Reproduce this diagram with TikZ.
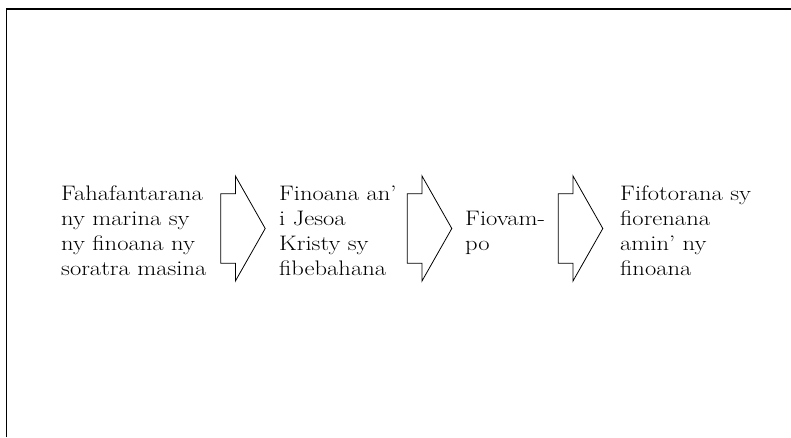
\documentclass[tikz,border=0pt]{standalone}
\usepackage{fontspec}
\setmainfont{Latin Modern Roman}[FakeStretch=1.17]
\begin{document}
\begin{tikzpicture}[x=1pt,y=1pt,
    stage/.style={anchor=west,align=left,inner sep=0pt,font=\fontsize{21}{25}\selectfont},
    blockarrow/.style={draw,line width=0.8pt,line join=miter}]
      \useasboundingbox (0,0) rectangle (791,437);
      \draw[line width=1.2pt] (6.5,0) -- (6.5,428) -- (791,428);
      \draw
        (61,206) node[stage] (1){Fahafantarana\\ny marina sy\\ny finoana ny\\soratra masina}
        (279,206) node[stage] (2){Finoana an’\\i Jesoa\\Kristy sy\\fibebahana}
        (465,204) node[stage] (3){Fiovam-\\po}
        (620,206) node[stage] (4){Fifotorana sy\\fiorenana\\amin’ ny\\finoana};
      \foreach \x in {220.7,407.3,558.3}
        \draw[blockarrow] (\x,173.75) -- (\x,243.25) -- (\x+14.7,243.25) -- (\x+14.7,261)
          -- (\x+44.5,208.5) -- (\x+14.7,156) -- (\x+14.7,173.75) -- cycle;
    \end{tikzpicture}
\end{document}
